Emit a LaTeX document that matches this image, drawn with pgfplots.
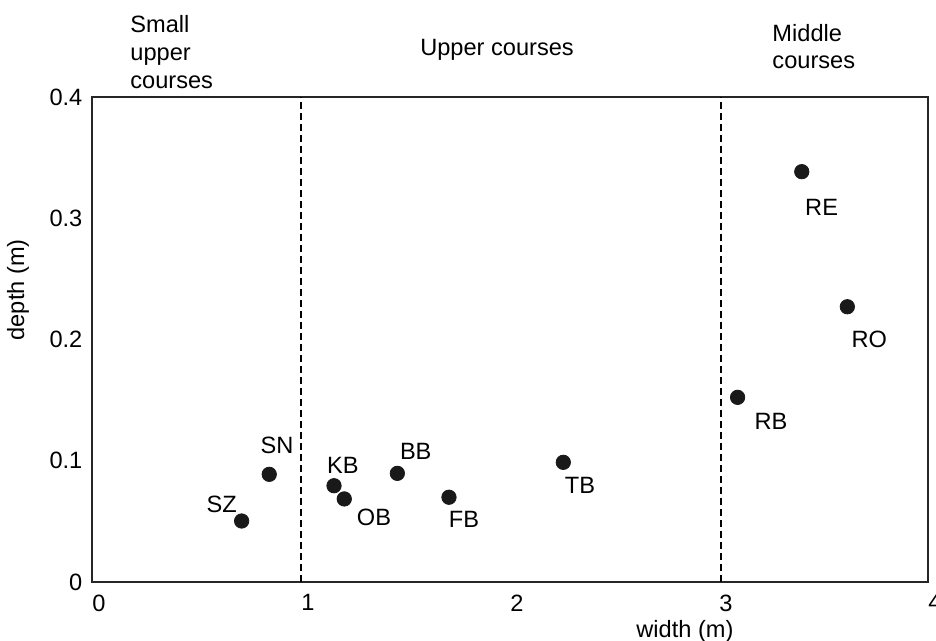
\documentclass[border=0pt]{standalone}
\usepackage{pgfplots}
\pgfplotsset{compat=1.18}
\usepackage{fontspec}
\setmainfont{Liberation Sans}
\begin{document}
\fontsize{11.8}{14}\selectfont
\begin{tikzpicture}
\begin{axis}[
  at={(0,0)}, anchor=south west,
  scale only axis, width=418pt, height=242.5pt,
  xmin=0, xmax=4, ymin=0, ymax=0.4,
  xtick={0,1,2,3,4}, ytick={0,0.1,0.2,0.3,0.4},
  major tick style={draw=none},
  /pgf/number format/assume math mode=true,
  /pgf/number format/fixed,
  xticklabel style={xshift=3.5pt, yshift=-2.2pt},
  yticklabel style={xshift=-0.7pt},
  axis line style={line width=1pt, color=black!85},
  clip=false,
  every node/.append style={font=\fontsize{11.8}{14}\selectfont},
]
\draw[dashed, dash pattern=on 3.5pt off 2pt, line width=1pt] (axis cs:1,0) -- (axis cs:1,0.4);
\draw[dashed, dash pattern=on 3.5pt off 2pt, line width=1pt] (axis cs:3.01,0) -- (axis cs:3.01,0.4);
\addplot[only marks, mark=*, mark size=3.6pt, color=black!90] coordinates {
  (0.716,0.0503) (0.848,0.0888) (1.158,0.0794) (1.207,0.0685) (1.461,0.0896)
  (1.708,0.0699) (2.255,0.0987) (3.089,0.1523) (3.396,0.3384) (3.614,0.2270)
};
\node at (axis cs:0.621,0.0643) {SZ};
\node at (axis cs:0.885,0.1130) {SN};
\node at (axis cs:1.200,0.0965) {KB};
\node at (axis cs:1.349,0.0536) {OB};
\node at (axis cs:1.549,0.1080) {BB};
\node at (axis cs:1.780,0.0520) {FB};
\node at (axis cs:2.335,0.0800) {TB};
\node at (axis cs:3.249,0.1322) {RB};
\node at (axis cs:3.491,0.3087) {RE};
\node at (axis cs:3.719,0.2002) {RO};
\node[inner sep=0, anchor=base west] at (axis cs:0.1818,0.4528) {Small};
\node[inner sep=0, anchor=base west] at (axis cs:0.1818,0.4297) {upper};
\node[inner sep=0, anchor=base west] at (axis cs:0.1818,0.4066) {courses};
\node[inner sep=0, anchor=base] at (axis cs:1.938,0.4346) {Upper courses};
\node[inner sep=0, anchor=base west] at (axis cs:3.254,0.4454) {Middle};
\node[inner sep=0, anchor=base west] at (axis cs:3.254,0.4231) {courses};
\node at (axis cs:2.837,-0.0404) {width (m)};
\node[rotate=90] at (axis cs:-0.354,0.241) {depth (m)};
\end{axis}
\pgfresetboundingbox
\useasboundingbox (-46pt,-29.5pt) rectangle (422pt,291pt);
\end{tikzpicture}
\end{document}
